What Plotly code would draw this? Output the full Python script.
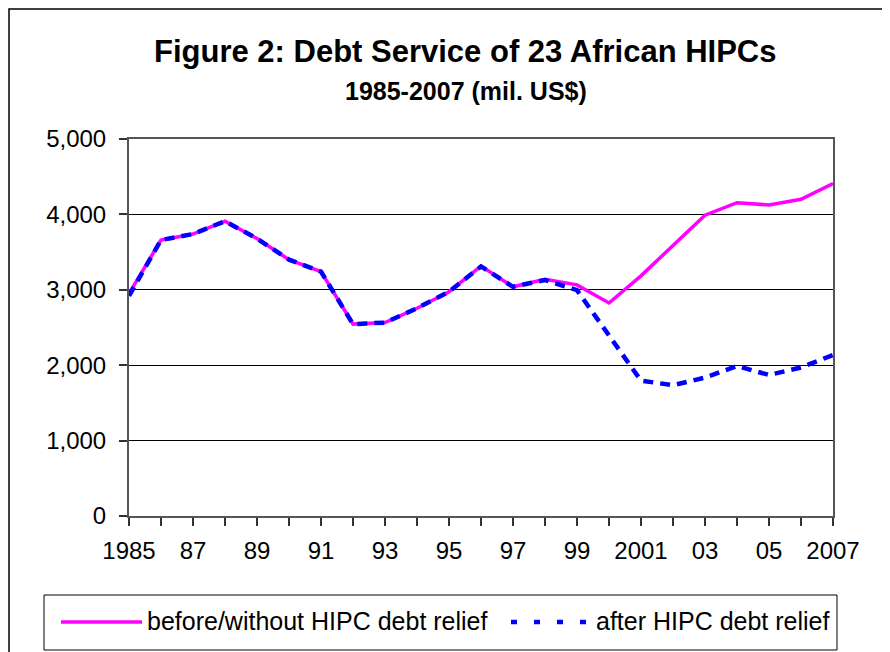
import plotly.graph_objects as go

years = list(range(1985, 2008))
before_relief = [2950, 3660, 3740, 3910, 3680, 3400, 3240, 2545, 2565, 2755, 2975, 3315, 3040,
                 3140, 3065, 2825, 3185, 3595, 3990, 4155, 4125, 4200, 4410]
after_relief = [2920, 3660, 3740, 3910, 3680, 3400, 3240, 2545, 2565, 2755, 2975, 3310, 3040,
                3130, 2995, 2400, 1795, 1735, 1835, 1990, 1870, 1970, 2135]
x_tick_labels = ["1985", "", "87", "", "89", "", "91", "", "93", "", "95", "", "97", "",
                 "99", "", "2001", "", "03", "", "05", "", "2007"]
y_tick_values = [0, 1000, 2000, 3000, 4000, 5000]
y_tick_labels = ["0", "1,000", "2,000", "3,000", "4,000", "5,000"]
title_text = "Figure 2: Debt Service of 23 African HIPCs"
subtitle_text = "1985-2007 (mil. US$)"
name_before = "before/without HIPC debt relief"
name_after = "after HIPC debt relief"

FONT = "Liberation Sans, Arial, sans-serif"
OFF = 8  # page body margin
W, H = 890, 652
# plot area in screen pixels: x 129..833, y 139..516
L = 129 - OFF
T = 139 - OFF
R = W - (833 - OFF)
B = H - (516 - OFF)
PW, PH = W - L - R, H - T - B


def px(x):
    return (x - OFF - L) / PW


def py(y):
    return (H - B - (y - OFF)) / PH


fig = go.Figure()
fig.add_trace(go.Scatter(x=years, y=before_relief, mode="lines", name=name_before,
                         line=dict(color="#FF00FF", width=3.5), showlegend=False))
fig.add_trace(go.Scatter(x=years, y=after_relief, mode="lines", name=name_after,
                         line=dict(color="#0000FF", width=4.5, dash="10px,7px"), showlegend=False))

shapes = [
    dict(type="rect", xref="paper", yref="paper", x0=px(OFF + 1), x1=px(910), y0=py(670), y1=py(OFF + 1),
         line=dict(color="black", width=1.5), layer="below"),
    dict(type="rect", xref="paper", yref="paper", x0=px(44), x1=px(837), y0=py(650), y1=py(595),
         line=dict(color="black", width=1)),
    dict(type="line", xref="paper", yref="paper", x0=px(61), x1=px(142), y0=py(622), y1=py(622),
         line=dict(color="#FF00FF", width=3.5)),
    dict(type="line", xref="paper", yref="paper", x0=px(511), x1=px(590), y0=py(622), y1=py(622),
         line=dict(color="#0000FF", width=4.5, dash="6px,17px")),
]

annotations = [
    dict(text="<b>" + title_text + "</b>", xref="paper", yref="paper", x=px(465), y=py(51),
         xanchor="center", yanchor="middle", showarrow=False,
         font=dict(family=FONT, size=31, color="black")),
    dict(text="<b>" + subtitle_text + "</b>", xref="paper", yref="paper", x=px(466), y=py(91),
         xanchor="center", yanchor="middle", showarrow=False,
         font=dict(family=FONT, size=25, color="black")),
    dict(text=name_before, xref="paper", yref="paper", x=px(145), y=py(621),
         xanchor="left", yanchor="middle", showarrow=False,
         font=dict(family=FONT, size=25, color="black")),
    dict(text=name_after, xref="paper", yref="paper", x=px(594), y=py(621),
         xanchor="left", yanchor="middle", showarrow=False,
         font=dict(family=FONT, size=25, color="black")),
]

fig.update_layout(
    width=W, height=H,
    margin=dict(l=L, r=R, t=T, b=B, pad=0),
    paper_bgcolor="white", plot_bgcolor="white",
    font=dict(family=FONT, color="black"),
    shapes=shapes, annotations=annotations,
    showlegend=False,
)
fig.update_xaxes(
    range=[1985, 2007], tickmode="array", tickvals=years, ticktext=x_tick_labels,
    ticks="outside", ticklen=8, tickcolor="#333", tickwidth=1.5, ticklabelstandoff=4,
    showline=True, linecolor="#555", linewidth=2, mirror=True,
    showgrid=False, zeroline=False, tickfont=dict(size=24, family=FONT, color="black"),
)
fig.update_yaxes(
    range=[0, 5000], tickmode="array", tickvals=y_tick_values, ticktext=y_tick_labels,
    ticks="outside", ticklen=8, tickcolor="#333", tickwidth=1.5, ticklabelstandoff=8,
    showline=True, linecolor="#555", linewidth=2, mirror=True,
    showgrid=True, gridcolor="black", gridwidth=1, zeroline=False,
    tickfont=dict(size=24, family=FONT, color="black"),
)

fig.write_html("out.html")
